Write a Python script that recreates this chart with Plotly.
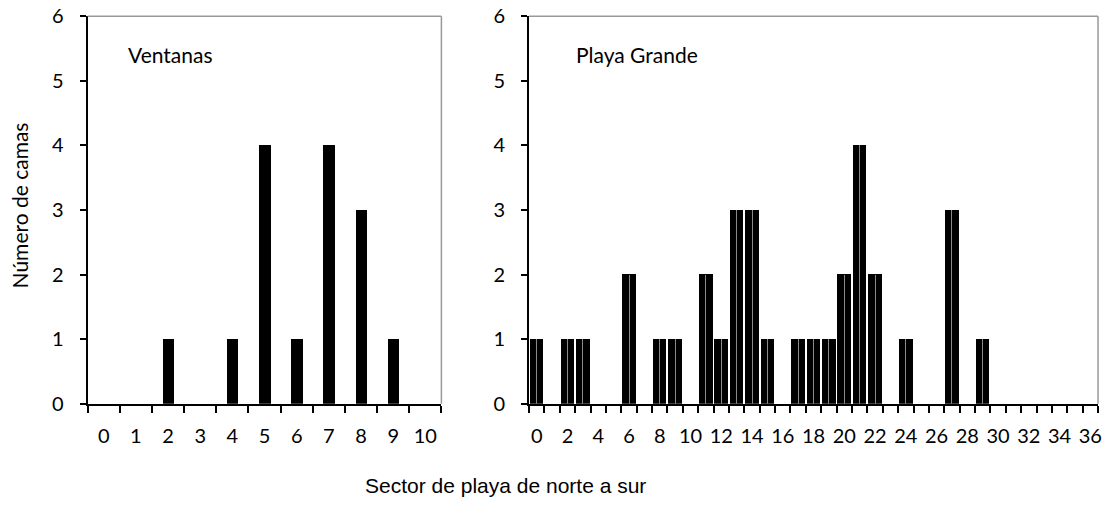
import plotly.graph_objects as go

# Data
ventanas_sector = [0, 1, 2, 3, 4, 5, 6, 7, 8, 9, 10]
ventanas_camas = [0, 0, 1, 0, 1, 4, 1, 4, 3, 1, 0]

playa_sector = list(range(0, 37))
playa_camas = [1, 0, 1, 1, 0, 0, 2, 0, 1, 1, 0, 2, 1, 3, 3, 1, 0, 1, 1, 1,
               2, 4, 2, 0, 1, 0, 0, 3, 0, 1, 0, 0, 0, 0, 0, 0, 0]

ventanas_ticks = list(range(0, 11))
playa_ticks = list(range(0, 37, 2))
y_ticks = list(range(0, 7))

W, H = 1110, 506
# vertical placement correction measured from the rendered page
Y_OFF, Y_SCALE = 13.8, 0.951


def px(x):
    return x / W


def py(y):
    return 1 - ((y - Y_OFF) / Y_SCALE) / H


tick_font = dict(family="Lato, Noto Sans, sans-serif", size=20, color="black")
label_font = dict(family="Lato, Noto Sans, sans-serif", size=21, color="black")
xtitle_font = dict(family="Liberation Sans, Arial, sans-serif", size=21, color="black")

fig = go.Figure()
fig.add_trace(go.Bar(x=ventanas_sector, y=ventanas_camas, xaxis="x", yaxis="y",
                     width=0.36, marker=dict(color="black", line=dict(width=0)),
                     showlegend=False, hoverinfo="x+y"))
fig.add_trace(go.Bar(x=playa_sector, y=playa_camas, xaxis="x2", yaxis="y2",
                     width=0.88, marker=dict(color="black", line=dict(width=0)),
                     error_y=dict(type="data", symmetric=False,
                                  array=[0] * len(playa_camas), arrayminus=playa_camas,
                                  color="#8a8a8a", thickness=1, width=0),
                     showlegend=False, hoverinfo="x+y"))

ydom = [py(404), py(17)]
x1dom = [px(88), px(443)]
x2dom = [px(531), px(1102)]

common_y = dict(range=[0, 6], tickvals=y_ticks, showgrid=False, zeroline=False,
                showline=True, linecolor="black", linewidth=2, ticks="outside", ticklen=6,
                tickwidth=1.5, tickcolor="black", tickfont=tick_font, domain=ydom,
                ticklabelstandoff=12, ticklabeloverflow="allow")

minor_x = dict(tick0=-0.5, dtick=1, ticks="outside", ticklen=7, tickwidth=1.5,
               tickcolor="black", showgrid=False)

fig.update_layout(
    width=W, height=H,
    margin=dict(l=0, r=0, t=0, b=0),
    plot_bgcolor="white", paper_bgcolor="white",
    bargap=0,
    xaxis=dict(domain=x1dom, range=[-0.5, 10.5], tickvals=ventanas_ticks,
               ticktext=[str(v) for v in ventanas_ticks], ticks="", showgrid=False,
               zeroline=False, showline=True, linecolor="black", linewidth=2,
               tickfont=tick_font, anchor="y", ticklabelstandoff=13, minor=minor_x,
               ticklabeloverflow="allow"),
    yaxis=dict(anchor="x", **common_y),
    xaxis2=dict(domain=x2dom, range=[-0.5, 36.5], tickvals=playa_ticks,
                ticktext=[str(v) for v in playa_ticks], ticks="", showgrid=False,
                zeroline=False, showline=True, linecolor="black", linewidth=2,
                tickfont=tick_font, anchor="y2", ticklabelstandoff=13, minor=minor_x,
                ticklabeloverflow="allow"),
    yaxis2=dict(anchor="x2", **common_y),
    shapes=[
        dict(type="line", xref="x domain", yref="y domain", x0=0, x1=1, y0=1, y1=1,
             line=dict(color="#999999", width=1.5)),
        dict(type="line", xref="x domain", yref="y domain", x0=1, x1=1, y0=0, y1=1,
             line=dict(color="#999999", width=1.5)),
        dict(type="line", xref="x2 domain", yref="y2 domain", x0=0, x1=1, y0=1, y1=1,
             line=dict(color="#999999", width=1.5)),
        dict(type="line", xref="x2 domain", yref="y2 domain", x0=1, x1=1, y0=0, y1=1,
             line=dict(color="#999999", width=1.5)),
    ],
    annotations=[
        dict(text="Ventanas", x=px(126), y=py(55), xref="paper", yref="paper",
             xanchor="left", yanchor="middle", showarrow=False, font=label_font),
        dict(text="Playa Grande", x=px(576), y=py(55), xref="paper", yref="paper",
             xanchor="left", yanchor="middle", showarrow=False, font=label_font),
        dict(text="Número de camas", x=px(20), y=py(206), xref="paper", yref="paper",
             xanchor="center", yanchor="middle", textangle=-90, showarrow=False,
             font=label_font),
        dict(text="Sector de playa de norte a sur", x=px(507), y=1 - 496 / H, xref="paper",
             yref="paper", xanchor="center", yanchor="middle", showarrow=False,
             font=xtitle_font),
    ],
)

fig.write_html(
    "out.html",
    config={"displayModeBar": False},
    post_script="document.body.style.margin='0px';"
                "document.documentElement.style.overflow='hidden';"
                "document.body.style.overflow='hidden';",
)
